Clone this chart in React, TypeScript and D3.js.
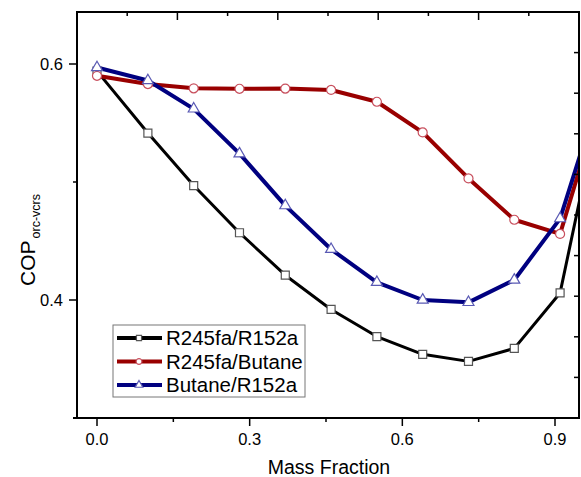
import React from 'react';
import { scaleLinear, line, symbol, symbolSquare, symbolCircle, symbolTriangle, range } from 'd3';

// mass fraction values
const massFraction = [0, 0.1, 0.19, 0.28, 0.37, 0.46, 0.55, 0.64, 0.73, 0.82, 0.91, 1.0];

// COP for each blend
const r245faR152a = [0.594, 0.5415, 0.497, 0.457, 0.421, 0.392, 0.369, 0.354, 0.348, 0.359, 0.406, 0.59];
const r245faButane = [0.59, 0.583, 0.5794, 0.579, 0.5792, 0.578, 0.568, 0.542, 0.503, 0.468, 0.456, 0.585];
const butaneR152a = [0.597, 0.586, 0.562, 0.524, 0.48, 0.443, 0.415, 0.4, 0.398, 0.417, 0.469, 0.592];

const xMajor = [0, 0.3, 0.6, 0.9];
const xMinor = [0.15, 0.45, 0.75];
const yMajor = [0.4, 0.6];
const yMinor = [0.3, 0.5];

const series = [
  { name: 'R245fa/R152a', values: r245faR152a, color: '#000000', width: 3, shape: symbolSquare, mark: '#555555', size: 64, legendSize: 26 },
  { name: 'R245fa/Butane', values: r245faButane, color: '#990000', width: 4, shape: symbolCircle, mark: '#c8505e', size: 64, legendSize: 26 },
  { name: 'Butane/R152a', values: butaneR152a, color: '#000080', width: 4, shape: symbolTriangle, mark: '#5a5ab4', size: 52, legendSize: 26 },
];

const W = 581;
const H = 477;
const left = 77;
const right = 579;
const top = 12;
const bottom = 418;
const font = '"Liberation Sans", Arial, sans-serif';

const App = () => {
  const xScale = scaleLinear().domain([0, 0.9]).range([97, 555]);
  const yScale = scaleLinear().domain([0.4, 0.6]).range([300, 64]);
  // unlabeled top / right axes
  const topScale = scaleLinear().domain([0, 10]).range([left, right]);
  const rightScale = scaleLinear().domain([0, 10]).range([bottom, top]);

  const lineGen = line<number>()
    .x((d, i) => xScale(massFraction[i]))
    .y(d => yScale(d));

  return (
    <svg width={W} height={H} style={{ position: 'absolute', left: 0, top: 0, background: '#fff' }} fontFamily={font}>
      <defs>
        <clipPath id="plot">
          <rect x={left} y={top} width={right - left} height={bottom - top} />
        </clipPath>
      </defs>

      <g clipPath="url(#plot)">
        {series.map(s => (
          <path key={s.name} d={lineGen(s.values) || ''} fill="none" stroke={s.color} strokeWidth={s.width} strokeLinejoin="round" />
        ))}
        {series.map(s =>
          s.values.map((v, i) => (
            <path
              key={s.name + i}
              d={symbol(s.shape, s.size)() || ''}
              transform={`translate(${xScale(massFraction[i])},${yScale(v)})`}
              fill="#fff"
              stroke={s.mark}
              strokeWidth={1.2}
            />
          ))
        )}
      </g>

      {/* frame */}
      <rect x={left} y={top} width={right - left} height={bottom - top} fill="none" stroke="#000" strokeWidth={2} />
      <line x1={73} x2={left} y1={bottom} y2={bottom} stroke="#000" strokeWidth={2} />

      {/* bottom axis */}
      {xMajor.map(t => (
        <g key={'xm' + t}>
          <line x1={xScale(t)} x2={xScale(t)} y1={bottom} y2={bottom + 8} stroke="#000" strokeWidth={1.5} />
          <text x={xScale(t)} y={445} textAnchor="middle" fontSize={16.5}>{t.toFixed(1)}</text>
        </g>
      ))}
      {xMinor.map(t => (
        <line key={'xn' + t} x1={xScale(t)} x2={xScale(t)} y1={bottom} y2={bottom + 4} stroke="#000" strokeWidth={1.5} />
      ))}

      {/* left axis */}
      {yMajor.map(t => (
        <g key={'ym' + t}>
          <line x1={left - 8} x2={left} y1={yScale(t)} y2={yScale(t)} stroke="#000" strokeWidth={1.5} />
          <text x={63} y={yScale(t) + 6} textAnchor="end" fontSize={16.5}>{t.toFixed(1)}</text>
        </g>
      ))}
      {yMinor.map(t => (
        <line key={'yn' + t} x1={left - 4} x2={left} y1={yScale(t)} y2={yScale(t)} stroke="#000" strokeWidth={1.5} />
      ))}

      {/* top axis ticks */}
      {range(1, 10).map(i => (
        <line key={'t' + i} x1={topScale(i)} x2={topScale(i)} y1={top} y2={top + (i % 2 === 0 ? 8 : 4)} stroke="#000" strokeWidth={1.5} />
      ))}
      {/* right axis ticks */}
      {range(1, 10).map(i => (
        <line key={'r' + i} x1={right - 5} x2={right} y1={rightScale(i)} y2={rightScale(i)} stroke="#000" strokeWidth={1.5} />
      ))}

      {/* axis titles */}
      <text x={329} y={474} textAnchor="middle" fontSize={19.5}>Mass Fraction</text>
      <text transform="translate(35,286) rotate(-90)" fontSize={21}>
        COP<tspan fontSize={12.5} dy={5} dx={2}>orc-vcrs</tspan>
      </text>

      {/* legend */}
      <rect x={113} y={325} width={192} height={72} fill="#fff" stroke="#777" strokeWidth={1} />
      {series.map((s, i) => {
        const ly = 338 + i * 23.5;
        return (
          <g key={'lg' + s.name}>
            <line x1={117} x2={162} y1={ly} y2={ly} stroke={s.color} strokeWidth={4} />
            <path d={symbol(s.shape, s.legendSize)() || ''} transform={`translate(139,${ly})`} fill="#fff" stroke={s.mark} strokeWidth={1.2} />
            <text x={166} y={ly + 7} fontSize={20.5}>{s.name}</text>
          </g>
        );
      })}
    </svg>
  );
};

export default App;
